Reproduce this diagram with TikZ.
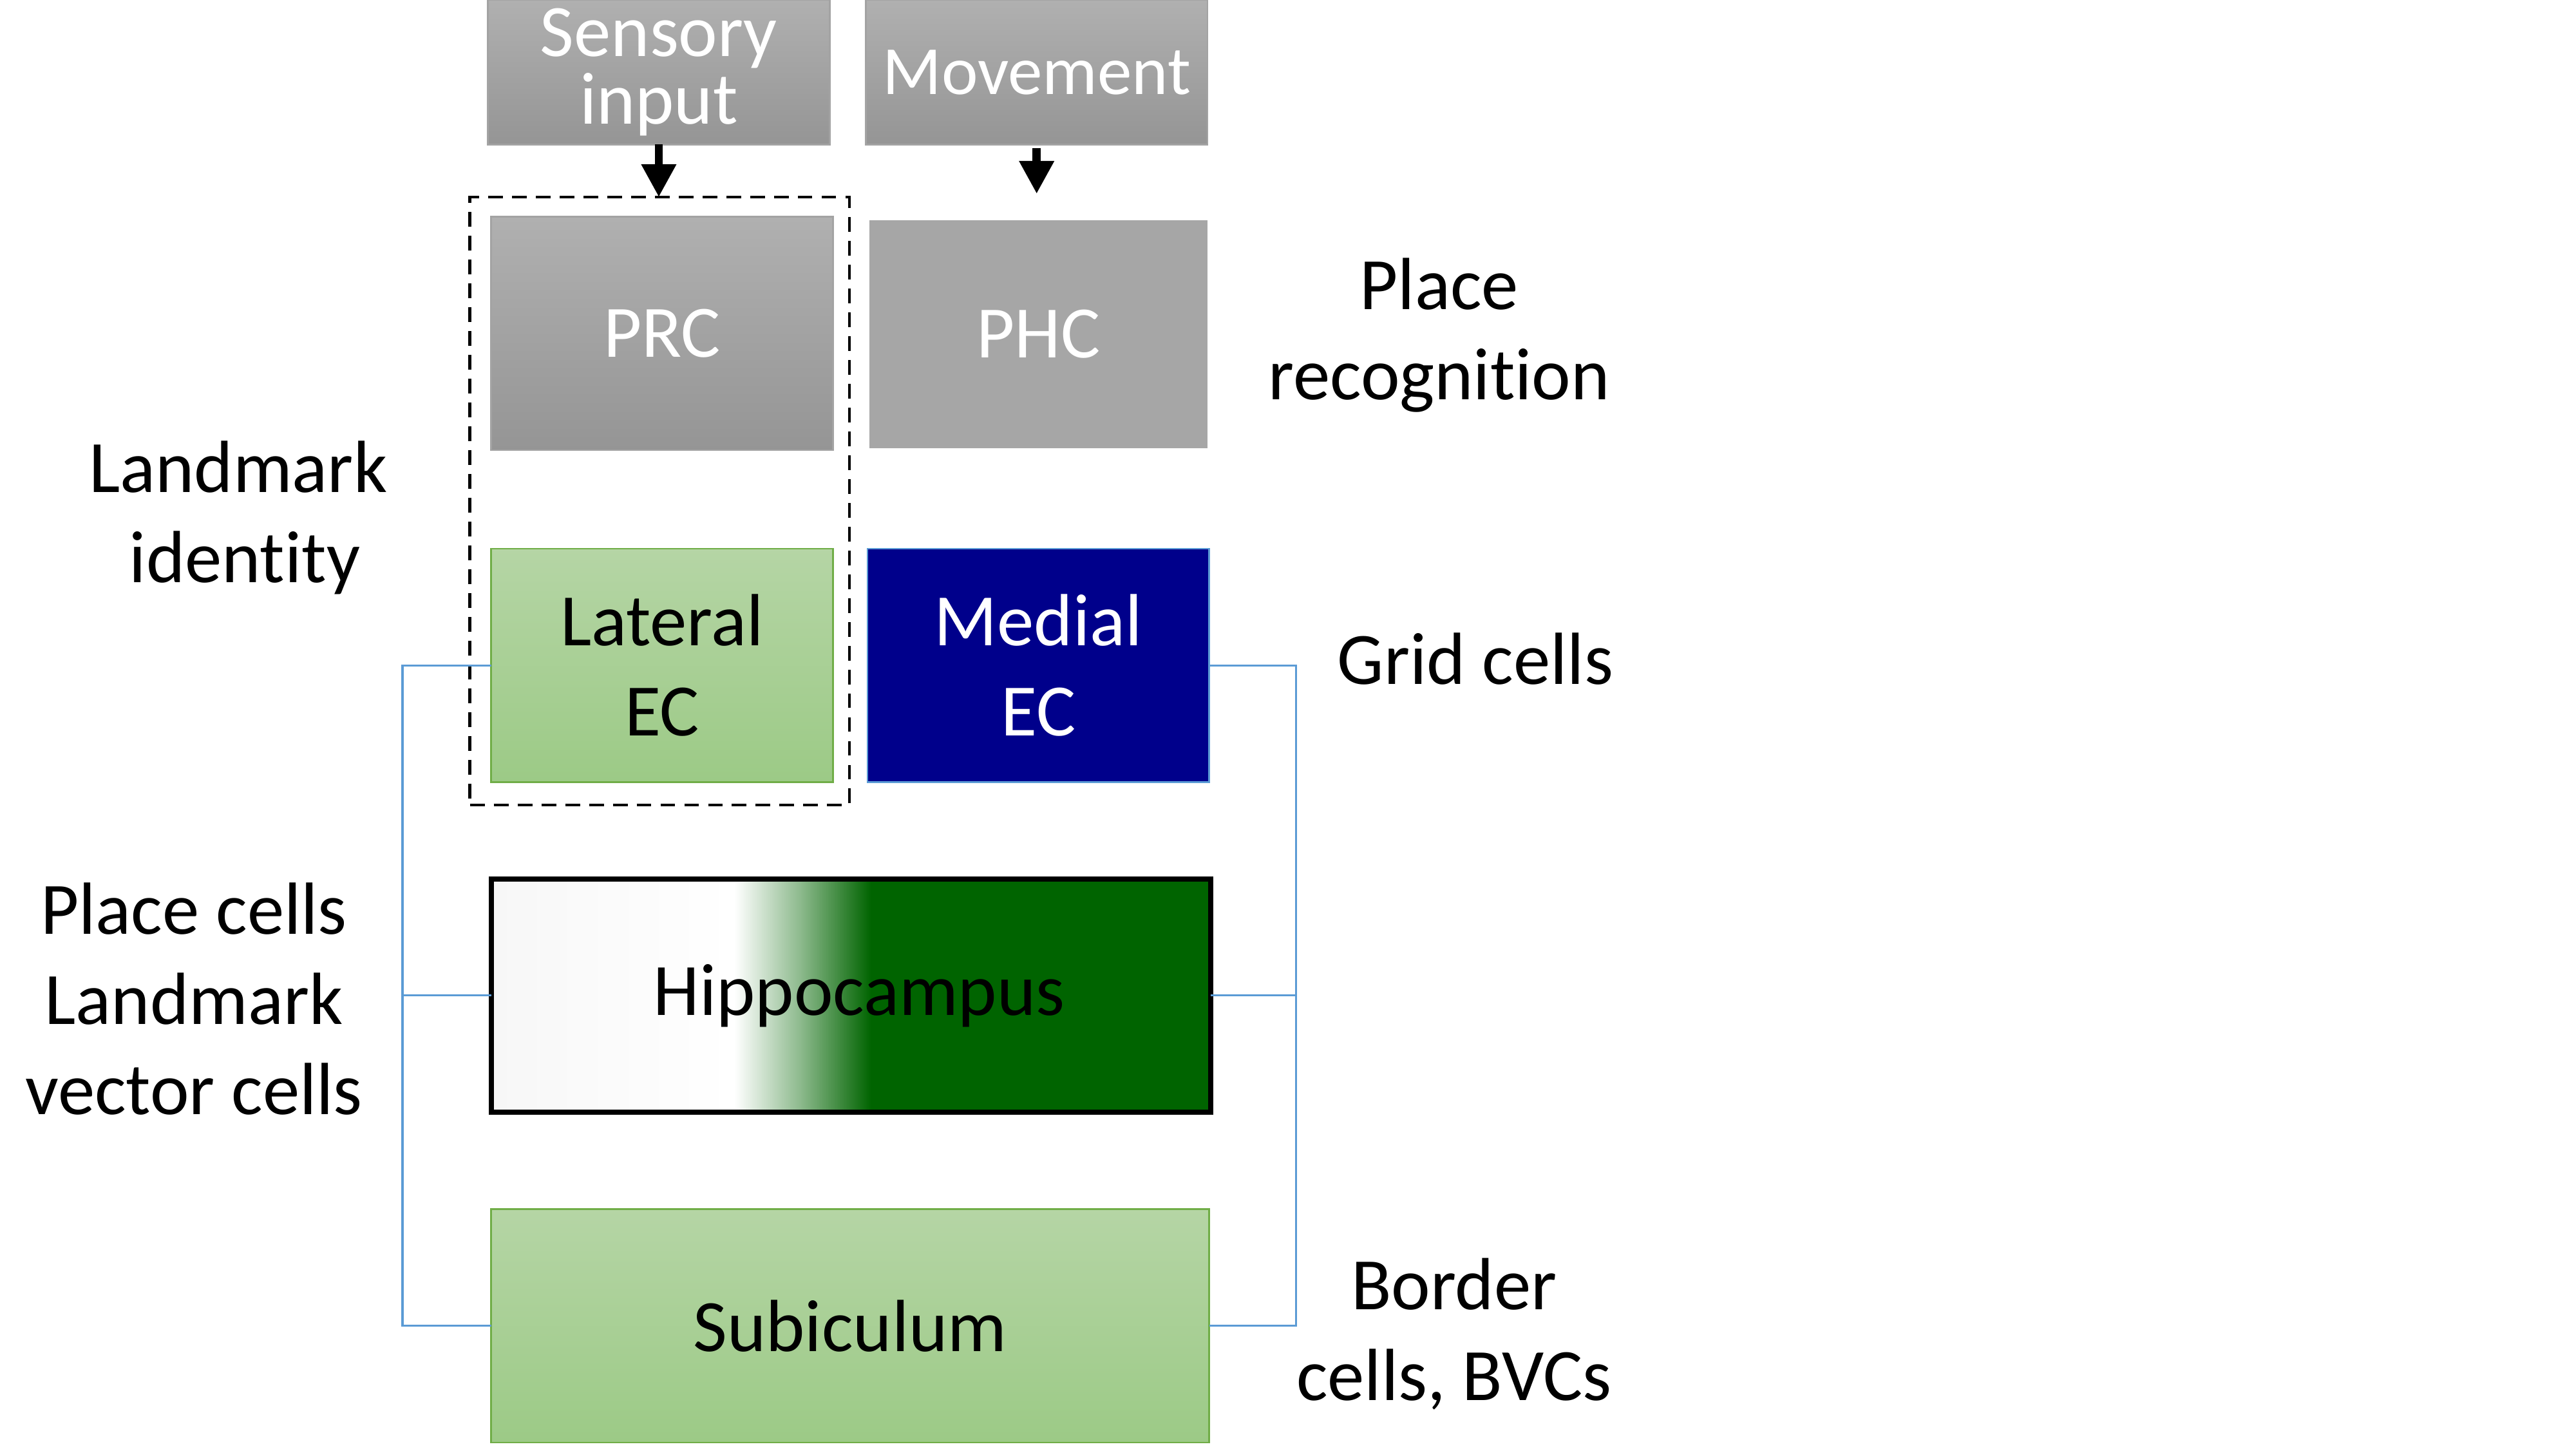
\documentclass[tikz,border=0pt]{standalone}
\usepackage{fontspec}
\setmainfont{Carlito}[Ligatures=NoCommon]
\usetikzlibrary{arrows.meta}
\definecolor{gtop}{HTML}{B0B0B0}
\definecolor{gbot}{HTML}{959595}
\definecolor{gline}{HTML}{A3A3A3}
\definecolor{phcgray}{HTML}{A6A6A6}
\definecolor{ltop}{HTML}{B5D5A5}
\definecolor{lbot}{HTML}{9CCA86}
\definecolor{lline}{HTML}{70AD47}
\definecolor{mecnavy}{HTML}{00008B}
\definecolor{linkblue}{HTML}{5B9BD5}
\definecolor{hipgreen}{HTML}{006400}
\definecolor{hipleft}{HTML}{F7F7F7}
\pgfdeclarehorizontalshading{hipshade}{100bp}{color(0bp)=(hipleft); color(25bp)=(hipleft); color(41.9bp)=(white); color(46.5bp)=(hipgreen!45!white); color(51.4bp)=(hipgreen); color(75bp)=(hipgreen); color(100bp)=(hipgreen)}
\begin{document}
\begin{tikzpicture}[x=1pt,y=-1pt,
  basebox/.style={rectangle, inner sep=0pt, outer sep=0pt, align=center, font=\fontsize{45pt}{55pt}\selectfont},
  graybox/.style={basebox, draw=gline, line width=1pt, top color=gtop, bottom color=gbot, text=white},
  greenbox/.style={basebox, draw=lline, line width=1pt, top color=ltop, bottom color=lbot, text=black},
  lbl/.style={align=center, inner sep=0pt, font=\fontsize{45pt}{55pt}\selectfont},
  bluelink/.style={draw=linkblue, line width=1.2pt},
  inarrow/.style={line width=5pt, -{Triangle[width=20pt,length=20pt]}},
]
\useasboundingbox (0,0) rectangle (1568,882);
\fill[white] (0,0) rectangle (1568,882);

% group (dashed)
\node[draw=black, line width=1.8pt, dash pattern=on 9pt off 5.5pt, minimum width=231pt, minimum height=370pt, inner sep=0pt, outer sep=0pt] (grp) at (401.5,305) {};

% boxes
\node[graybox, minimum width=208pt, minimum height=88pt, font=\fontsize{45pt}{41pt}\selectfont] (sens) at (401,44) {Sensory\\input};
\node[graybox, minimum width=208pt, minimum height=88pt, font=\fontsize{42pt}{50pt}\selectfont] (move) at (631,44) {Movement};
\node[graybox, minimum width=208pt, minimum height=142pt] (prc) at (403,203) {PRC};
\node[basebox, fill=phcgray, text=white, minimum width=206pt, minimum height=139pt] (phc) at (632,203.5) {PHC};
\node[greenbox, minimum width=208pt, minimum height=142pt] (lec) at (403,405) {Lateral\\EC};
\node[basebox, draw=linkblue, line width=1pt, fill=mecnavy, text=white, minimum width=208pt, minimum height=142pt] (mec) at (632,405) {Medial\\EC};
\node[basebox, shade, shading=hipshade, draw=black, line width=3pt, minimum width=438pt, minimum height=142pt] (hip) at (518,606) {\hspace*{10pt}Hippocampus};
\node[greenbox, minimum width=437pt, minimum height=142pt] (sub) at (517.5,807) {Subiculum};

% arrows
\draw[inarrow] (sens.south) -- (sens.south |- grp.north);
\draw[inarrow, shorten >=16pt] ([yshift=-2pt]move.south) -- (move.south |- phc.north);

% connectors
\coordinate (lspine) at (245,606);
\coordinate (rspine) at (789,606);
\draw[bluelink] (lec.west) -- (lec.west -| lspine) |- (sub.west);
\draw[bluelink] (hip.west) -- (hip.west -| lspine);
\draw[bluelink] (mec.east) -- (mec.east -| rspine) |- (sub.east);
\draw[bluelink] (hip.east) -- (hip.east -| rspine);

% labels
\node[lbl] (placerec) at (876,204) {Place\\recognition};
\node[lbl] (lmid) at (145,315) {Landmark\\\hspace*{8pt}identity};
\node[lbl] (grid) at (898,401) {Grid cells};
\node[lbl] (placecells) at (118,608) {Place cells\\Landmark\\vector cells};
\node[lbl] (border) at (885,812) {Border\\cells, BVCs};
\end{tikzpicture}
\end{document}
